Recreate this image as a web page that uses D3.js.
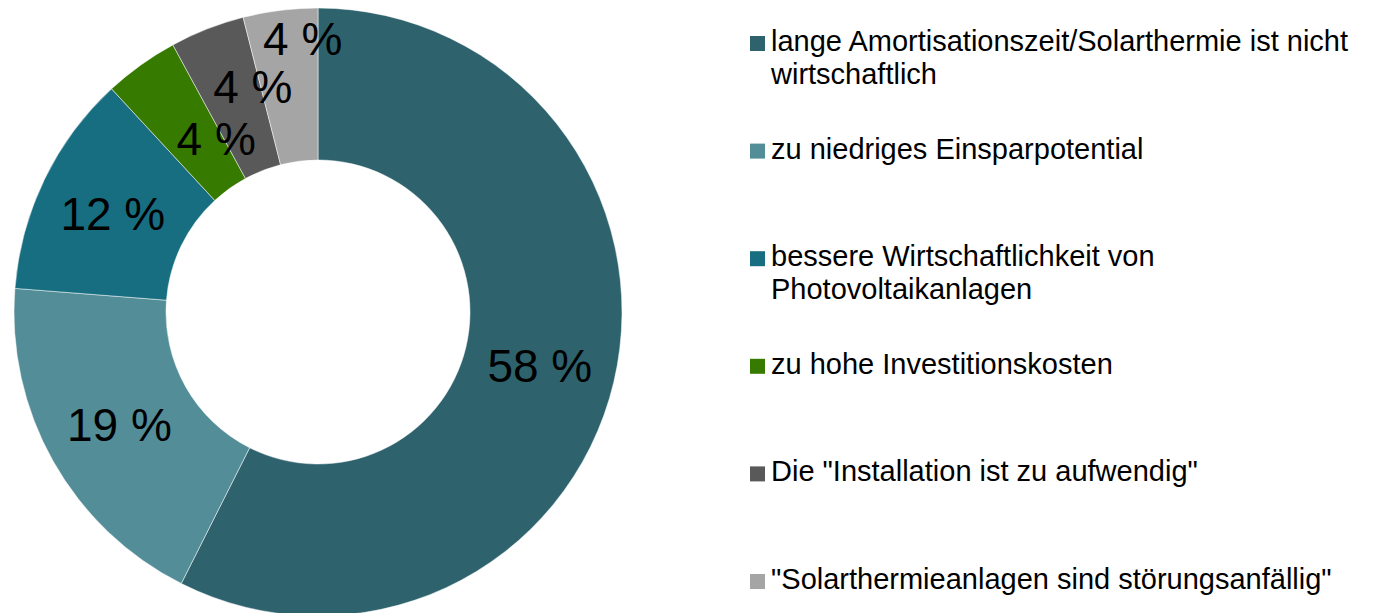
<!DOCTYPE html>
<meta charset="utf-8">
<title>Gründe gegen Solarthermie</title>
<script src="https://d3js.org/d3.v7.min.js"></script>
<style>
    body { margin: 0; background: #fff; }
    svg  { display: block; font-family: "Liberation Sans", Arial, sans-serif; }
</style>
<body>
<script>

    // Data
    const categories = [
        ["lange Amortisationszeit/Solarthermie ist nicht", "wirtschaftlich"],
        ["zu niedriges Einsparpotential"],
        ["bessere Wirtschaftlichkeit von", "Photovoltaikanlagen"],
        ["zu hohe Investitionskosten"],
        ["Die \"Installation ist zu aufwendig\""],
        ["\"Solarthermieanlagen sind störungsanfällig\""]
    ];
    const values = [58, 19, 12, 4, 4, 4];
    const colors = ["#2e636e", "#538d97", "#176e80", "#377a00", "#595959", "#a5a5a5"];

    // SVG constraints
    const width  = 1374;
    const height = 613;

    const cx = 318, cy = 312;
    const outerR = 304, innerR = 152;

    // the three small labels were dragged off their centroid in the original
    const labelNudge = [[0, 0], [0, 0], [0, 0], [31, 11], [18, -14], [13, -48]];

    const svg = d3.select("body")
                  .append("svg")
                  .attr("width", width)
                  .attr("height", height);

    const pie = d3.pie()
                  .sort(null)
                  .value(d => d);

    const arc = d3.arc()
                  .innerRadius(innerR)
                  .outerRadius(outerR);

    const arcs = pie(values);

    const ring = svg.append("g")
                    .attr("transform", "translate(" + cx + "," + cy + ")");

    // Slices
    ring.selectAll("path")
        .data(arcs)
        .enter()
        .append("path")
        .attr("d", arc)
        .attr("fill", (d, i) => colors[i])
        .attr("stroke", "#fff")
        .attr("stroke-width", 0.5);

    // Percent labels
    ring.selectAll("text")
        .data(arcs)
        .enter()
        .append("text")
        .attr("x", (d, i) => arc.centroid(d)[0] + labelNudge[i][0])
        .attr("y", (d, i) => arc.centroid(d)[1] + labelNudge[i][1])
        .attr("dy", "0.38em")
        .attr("text-anchor", "middle")
        .attr("font-size", 46)
        .attr("fill", "#000")
        .text(d => d.data + " %");

    // Legend
    const legendY = d3.scaleLinear()
                      .domain([0, categories.length - 1])
                      .range([51, 589]);

    const legend = svg.append("g")
                      .attr("id", "legend")
                      .selectAll("g")
                      .data(categories)
                      .enter()
                      .append("g")
                      .attr("transform", (d, i) => "translate(750," + legendY(i) + ")");

    legend.append("rect")
          .attr("x", 0)
          .attr("y", -15)
          .attr("width", 15)
          .attr("height", 15)
          .attr("fill", (d, i) => colors[i]);

    legend.append("text")
          .attr("font-size", 29)
          .attr("fill", "#000")
          .selectAll("tspan")
          .data(d => d)
          .enter()
          .append("tspan")
          .attr("x", 21)
          .attr("y", (d, j) => j * 33)
          .text(d => d);

</script>
</body>
